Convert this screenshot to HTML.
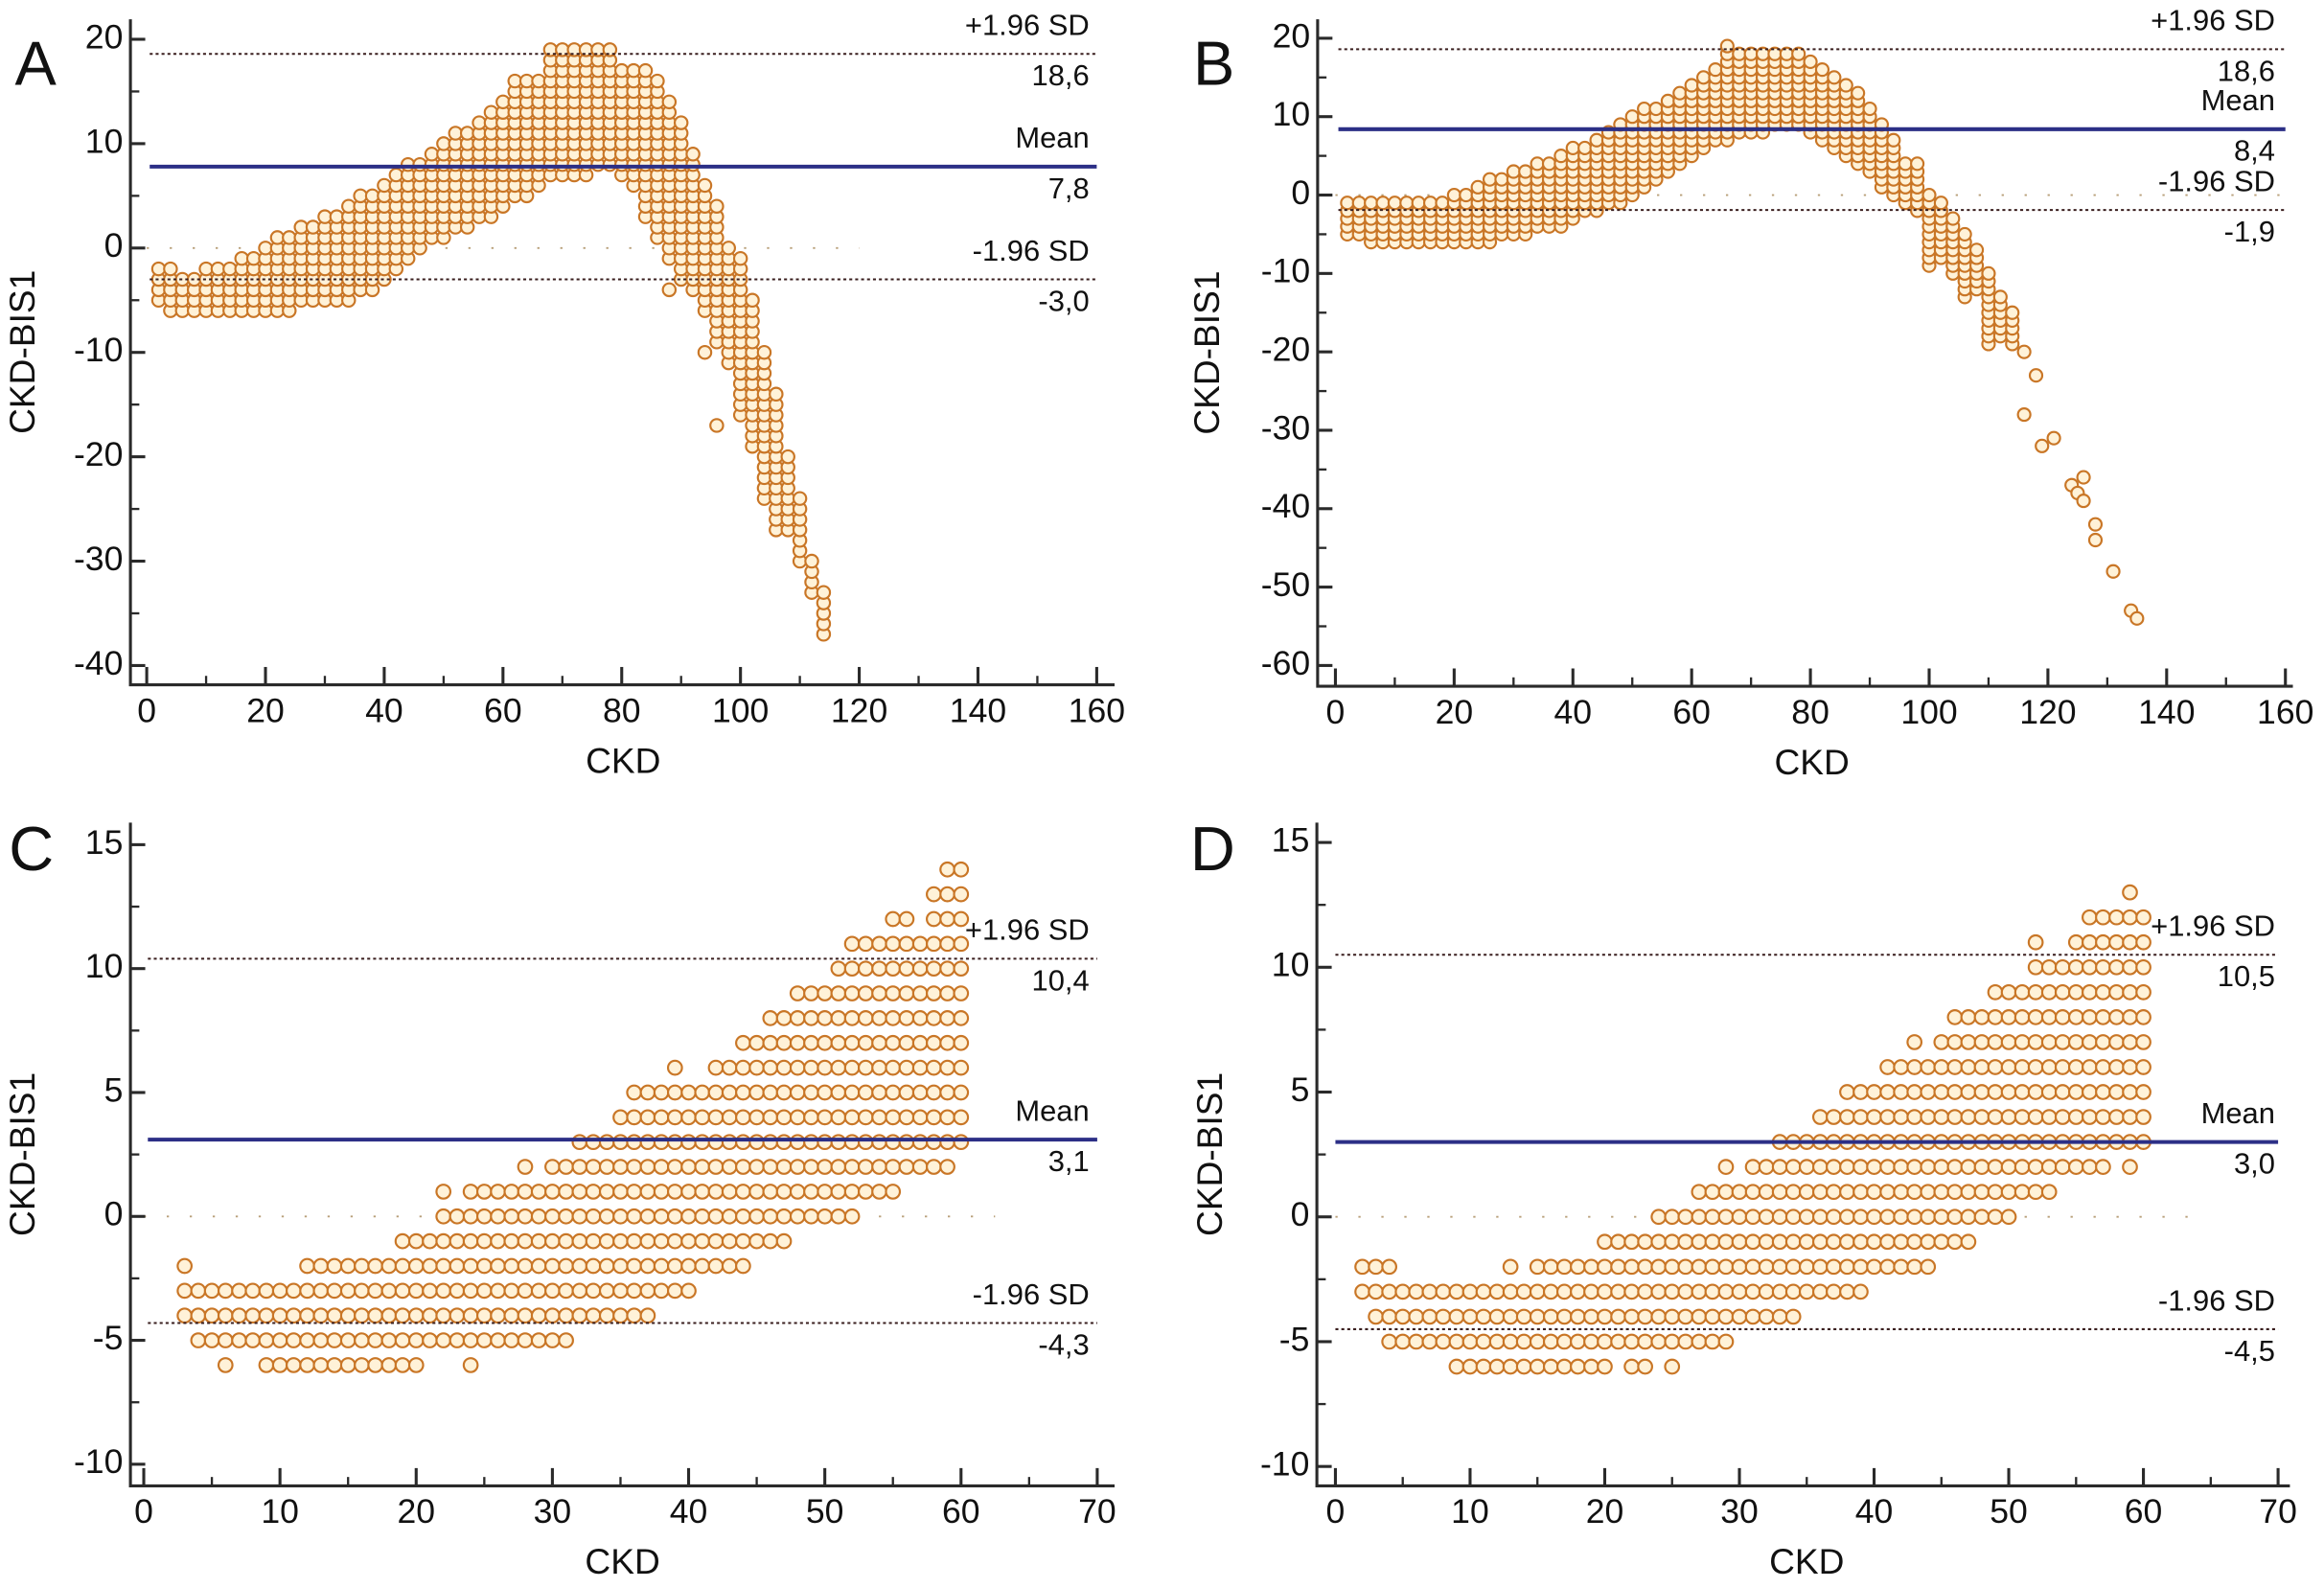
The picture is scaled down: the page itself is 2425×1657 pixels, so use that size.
<!DOCTYPE html>
<html><head><meta charset="utf-8"><title>Bland-Altman plots</title>
<style>
html,body{margin:0;padding:0;background:#fff;}
svg{display:block;}
text{font-family:"Liberation Sans",sans-serif;fill:#111;}
</style></head>
<body>
<svg id="fig" width="2425" height="1657" viewBox="0 0 1568 1071.4" preserveAspectRatio="none" xmlns="http://www.w3.org/2000/svg"></svg>
<script>
// ---------- Panel A data (columns: x, lowest y, highest y) ----------
const colsA_x  = [2,4,6,8,10,12,14,16,18,20,22,24,26,28,30,32,34,36,38,40,42,44,46,48,50,52,54,56,58,60,62,64,66,68,70,72,74,76,78,80,82,84,86,88,90,92,94,96,98,100,102,104,106,108,110,112,114];
const colsA_hi = [-2,-2,-3,-3,-2,-2,-2,-1,-1,0,1,1,2,2,3,3,4,5,5,6,7,8,8,9,10,11,11,12,13,14,16,16,16,19,19,19,19,19,19,17,17,17,16,14,12,9,6,4,0,-1,-5,-10,-14,-20,-24,-30,-33];
const colsA_lo = [-5,-6,-6,-6,-6,-6,-6,-6,-6,-6,-6,-6,-5,-5,-5,-5,-5,-4,-4,-3,-2,-1,0,1,1,2,2,3,3,4,5,5,6,7,7,7,7,8,8,7,6,3,1,-1,-3,-4,-6,-9,-11,-16,-19,-24,-27,-27,-30,-33,-37];
const tailA_x = [88,94,96];
const tailA_y = [-4,-10,-17];
const refA = [18.6, 7.8, -3.0];
const refA_text = ["18,6","7,8","-3,0"];

// ---------- Panel B data ----------
const colsB_x  = [2,4,6,8,10,12,14,16,18,20,22,24,26,28,30,32,34,36,38,40,42,44,46,48,50,52,54,56,58,60,62,64,66,68,70,72,74,76,78,80,82,84,86,88,90,92,94,96,98,100,102,104,106,108,110,112,114];
const colsB_hi = [-1,-1,-1,-1,-1,-1,-1,-1,-1,0,0,1,2,2,3,3,4,4,5,6,6,7,8,9,10,11,11,12,13,14,15,16,19,18,18,18,18,18,18,17,16,15,14,13,11,9,7,4,4,0,-1,-3,-5,-7,-10,-13,-15];
const colsB_lo = [-5,-5,-6,-6,-6,-6,-6,-6,-6,-6,-6,-6,-6,-5,-5,-5,-4,-4,-4,-3,-2,-2,-1,-1,0,1,2,3,4,5,6,7,7,8,8,8,9,9,9,8,7,6,5,4,3,1,0,-1,-2,-9,-8,-10,-13,-12,-19,-18,-19];
const tailB_x = [116,116,118,119,121,124,125,126,126,128,128,131,134,135];
const tailB_y = [-20,-28,-23,-32,-31,-37,-38,-36,-39,-42,-44,-48,-53,-54];
const refB = [18.6, 8.4, -1.9];
const refB_text = ["18,6","8,4","-1,9"];

// ---------- Panel C data (rows: y, first x, last x) ----------
const rowsC_y  = [14,13,12,12,11,10,9,8,7,6,6,5,4,3,2,2,1,1,0,-1,-2,-2,-3,-4,-5,-6,-6,-6];
const rowsC_x0 = [59,58,55,58,52,51,48,46,44,39,42,36,35,32,28,30,22,24,22,19,3,12,3,3,4,6,9,24];
const rowsC_x1 = [60,60,56,60,60,60,60,60,60,39,60,60,60,60,28,59,22,55,52,47,3,44,40,37,31,6,20,24];
const refC = [10.4, 3.1, -4.3];
const refC_text = ["10,4","3,1","-4,3"];

// ---------- Panel D data ----------
const rowsD_y  = [13,12,11,11,10,9,8,7,7,6,5,4,3,2,2,2,1,0,-1,-2,-2,-2,-3,-4,-5,-6,-6,-6];
const rowsD_x0 = [59,56,52,55,52,49,46,43,45,41,38,36,33,29,31,59,27,24,20,2,13,15,2,3,4,9,22,25];
const rowsD_x1 = [59,60,52,60,60,60,60,43,60,60,60,60,60,29,57,59,53,50,47,4,13,44,39,34,29,20,23,25];
const refD = [10.5, 3.0, -4.5];
const refD_text = ["10,5","3,0","-4,5"];

// ---------- axis tick arrays ----------
const ticksA_y = [20,10,0,-10,-20,-30,-40];
const ticksB_y = [20,10,0,-10,-20,-30,-40,-50,-60];
const ticksAB_x = [0,20,40,60,80,100,120,140,160];
const ticksCD_y = [15,10,5,0,-5,-10];
const ticksCD_x = [0,10,20,30,40,50,60,70];

const NS = "http://www.w3.org/2000/svg";
const svg = document.getElementById('fig');
function mk(tag, attrs, parent){
  const e = document.createElementNS(NS, tag);
  for (const k in attrs) e.setAttribute(k, attrs[k]);
  (parent||svg).appendChild(e);
  return e;
}

function panel(P){
  const g = mk('g', {});
  
  
  const X = v => P.x0 + v * P.xs;
  const Y = v => P.y0 - v * P.ys;

  const z = mk('line', {x1:X(0), x2:X(P.zeroEnd), y1:Y(0), y2:Y(0), stroke:'#b9a07a', 'stroke-width':1.2, 'stroke-dasharray':'1.5 14'}, g);
  
  

  const pg = mk('g', {}, g);
  
  
  const pts = [];
  if (P.cols) {
    for (let i = 0; i < P.cols.x.length; i++)
      for (let y = P.cols.lo[i]; y <= P.cols.hi[i]; y++) pts.push([P.cols.x[i], y]);
  }
  if (P.rows) {
    for (let i = 0; i < P.rows.y.length; i++)
      for (let x = P.rows.x0[i]; x <= P.rows.x1[i]; x++) pts.push([x, P.rows.y[i]]);
  }
  if (P.tail) for (let i = 0; i < P.tail.x.length; i++) pts.push([P.tail.x[i], P.tail.y[i]]);
  pts.forEach(p => {
    const c = mk('circle', {cx:X(p[0]), cy:Y(p[1]), r:P.r, fill:'#fff2d8', stroke:'#c97626', 'stroke-width':1.4}, pg);
    
    
  });

  const labelsTop = ['+1.96 SD', 'Mean', '-1.96 SD'];
  const refNames = ['upper-limit', 'mean', 'lower-limit'];
  P.ref.forEach((v, i) => {
    const isMean = i === 1;
    const l = mk('line', {x1:X(P.xmin), x2:X(P.xmax), y1:Y(v), y2:Y(v),
      stroke: isMean ? '#2c2f86' : '#3a1f1f', 'stroke-width': isMean ? 2.6 : 1.3,
      'stroke-dasharray': isMean ? 'none' : '2 2'}, g);
    
    
    const t1 = mk('text', {x:P.labelRight, y:Y(v) - 18, 'text-anchor':'end', 'dominant-baseline':'middle', 'font-size':20}, g);
    t1.textContent = labelsTop[i];
    
    
    const t2 = mk('text', {x:P.labelRight, y:Y(v) + 16, 'text-anchor':'end', 'dominant-baseline':'middle', 'font-size':20}, g);
    t2.textContent = P.refText[i];
    
    
  });

  const ax = mk('path', {d:`M${P.axX},${P.axTop} V${P.axY} H${P.axRight}`, fill:'none', stroke:'#2a2a2a', 'stroke-width':2}, g);
  
  
  P.yt.forEach(v => {
    mk('line', {x1:P.axX, x2:P.axX + 10, y1:Y(v), y2:Y(v), stroke:'#2a2a2a', 'stroke-width':2}, g);
    const t = mk('text', {x:P.axX - 5, y:Y(v), 'text-anchor':'end', 'dominant-baseline':'middle', 'font-size':23}, g);
    t.textContent = v;
    
    
  });
  for (let k = 0; k < P.yt.length - 1; k++) {
    const v = (P.yt[k] + P.yt[k + 1]) / 2;
    mk('line', {x1:P.axX, x2:P.axX + 6, y1:Y(v), y2:Y(v), stroke:'#2a2a2a', 'stroke-width':1.5}, g);
  }
  P.xt.forEach(v => {
    mk('line', {x1:X(v), x2:X(v), y1:P.axY, y2:P.axY - 12, stroke:'#2a2a2a', 'stroke-width':2}, g);
    const t = mk('text', {x:X(v), y:P.axY + 19, 'text-anchor':'middle', 'dominant-baseline':'middle', 'font-size':23}, g);
    t.textContent = v;
    
    
  });
  for (let k = 0; k < P.xt.length - 1; k++) {
    const v = (P.xt[k] + P.xt[k + 1]) / 2;
    mk('line', {x1:X(v), x2:X(v), y1:P.axY, y2:P.axY - 6, stroke:'#2a2a2a', 'stroke-width':1.5}, g);
  }
  const xtit = mk('text', {x:(X(P.xmin) + X(P.xmax)) / 2, y:P.axY + 53, 'text-anchor':'middle', 'dominant-baseline':'middle', 'font-size':24}, g);
  xtit.textContent = 'CKD';
  
  
  const yc = (P.axTop + P.axY) / 2;
  const ytit = mk('text', {x:P.ytX, y:yc, 'text-anchor':'middle', 'dominant-baseline':'middle', 'font-size':24, transform:`rotate(-90 ${P.ytX} ${yc})`}, g);
  ytit.textContent = 'CKD-BIS1';
  
  
  const let_ = mk('text', {x:P.letX, y:P.letY, 'font-size':42, 'dominant-baseline':'middle'}, g);
  let_.textContent = P.id;
  
  
}

panel({id:'A', x0:99, xs:4.006, y0:26.5 + 20 * 7.042, ys:7.042, r:4.3,
  cols:{x:colsA_x, lo:colsA_lo, hi:colsA_hi}, tail:{x:tailA_x, y:tailA_y},
  ref:refA, refText:refA_text, xmin:0.5, xmax:160, zeroEnd:120,
  axX:88, axTop:13, axY:462, axRight:752, labelRight:735,
  yt:ticksA_y, xt:ticksAB_x, ytX:17, letX:10, letY:46});
panel({id:'B', x0:901, xs:4.006, y0:25.8 + 20 * 5.29, ys:5.29, r:4.2,
  cols:{x:colsB_x, lo:colsB_lo, hi:colsB_hi}, tail:{x:tailB_x, y:tailB_y},
  ref:refB, refText:refB_text, xmin:0.5, xmax:160, zeroEnd:160,
  axX:889, axTop:13, axY:463, axRight:1547, labelRight:1535,
  yt:ticksB_y, xt:ticksAB_x, ytX:816, letX:805, letY:46});
panel({id:'C', x0:97, xs:9.19, y0:820.7, ys:16.72, r:4.7,
  rows:{y:rowsC_y, x0:rowsC_x0, x1:rowsC_x1},
  ref:refC, refText:refC_text, xmin:0.3, xmax:70, zeroEnd:62.5,
  axX:88, axTop:555, axY:1002.5, axRight:752, labelRight:735,
  yt:ticksCD_y, xt:ticksCD_x, ytX:17, letX:6, letY:576});
panel({id:'D', x0:901, xs:9.086, y0:821, ys:16.84, r:4.7,
  rows:{y:rowsD_y, x0:rowsD_x0, x1:rowsD_x1},
  ref:refD, refText:refD_text, xmin:0, xmax:70, zeroEnd:63.5,
  axX:888.5, axTop:555, axY:1002.5, axRight:1545, labelRight:1535,
  yt:ticksCD_y, xt:ticksCD_x, ytX:818, letX:803, letY:576});
</script>
</body></html>
